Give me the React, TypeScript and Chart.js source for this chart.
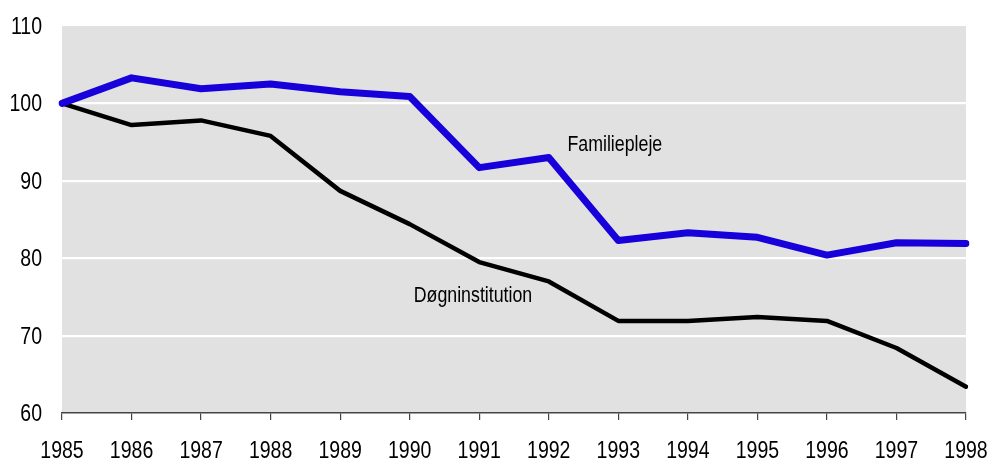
import React, { useEffect, useRef } from "react";
import { Chart, registerables } from "chart.js";

Chart.register(...registerables);

const years = ["1985","1986","1987","1988","1989","1990","1991","1992","1993","1994","1995","1996","1997","1998"];
const familiepleje = [100, 103.3, 101.9, 102.5, 101.5, 100.9, 91.7, 93.0, 82.3, 83.3, 82.7, 80.4, 82.0, 81.9];
const dognInstitution = [100, 97.2, 97.8, 95.8, 88.7, 84.4, 79.5, 77.0, 71.9, 71.9, 72.4, 71.9, 68.4, 63.4];
const yTicks = [60, 70, 80, 90, 100, 110];
const seriesLabels = [
  { text: "Familiepleje", x: 7.95, y: 93.8 },
  { text: "Døgninstitution", x: 5.91, y: 74.3 },
];

const FONT = "'Liberation Sans', Arial, sans-serif";

const bgPlugin = {
  id: "bgPlugin",
  beforeDraw(chart: any) {
    const { ctx, chartArea } = chart;
    ctx.save();
    ctx.fillStyle = "#e1e1e1";
    ctx.fillRect(chartArea.left, chartArea.top, chartArea.right - chartArea.left, chartArea.bottom - chartArea.top);
    ctx.restore();
  },
};

function narrowText(ctx: any, text: string, x: number, y: number, align: "left" | "center" | "right", sx: number) {
  ctx.save();
  ctx.translate(x, y);
  ctx.scale(sx, 1);
  ctx.textAlign = align;
  ctx.textBaseline = "alphabetic";
  ctx.fillText(text, 0, 0);
  ctx.restore();
}

const labelPlugin = {
  id: "labelPlugin",
  afterDraw(chart: any) {
    const { ctx, scales, chartArea } = chart;
    ctx.save();
    ctx.fillStyle = "#000";
    ctx.font = `22.5px ${FONT}`;
    for (const l of seriesLabels) {
      narrowText(ctx, l.text, scales.x.getPixelForValue(l.x), scales.y.getPixelForValue(l.y), "center", 0.79);
    }
    ctx.font = `23.5px ${FONT}`;
    for (const v of yTicks) {
      narrowText(ctx, String(v), chartArea.left - 20, scales.y.getPixelForValue(v) + 8, "right", 0.83);
    }
    years.forEach((yr, i) => {
      narrowText(ctx, yr, scales.x.getPixelForValue(i), chartArea.bottom + 45, "center", 0.83);
    });
    ctx.restore();
  },
};

export default function App() {
  const ref = useRef<HTMLCanvasElement>(null);
  useEffect(() => {
    if (!ref.current) return;
    const chart = new Chart(ref.current, {
      type: "line",
      data: {
        labels: years,
        datasets: [
          {
            label: "Familiepleje",
            data: familiepleje,
            borderColor: "#1800da",
            borderWidth: 7,
            pointRadius: 0,
            tension: 0,
            borderCapStyle: "round",
            borderJoinStyle: "round",
          },
          {
            label: "Døgninstitution",
            data: dognInstitution,
            borderColor: "#000000",
            borderWidth: 4.5,
            pointRadius: 0,
            tension: 0,
            borderCapStyle: "round",
            borderJoinStyle: "round",
          },
        ],
      },
      options: {
        animation: false,
        responsive: false,
        maintainAspectRatio: false,
        layout: { padding: { left: 0, right: 23, top: 26, bottom: 0 } },
        plugins: { legend: { display: false }, tooltip: { enabled: false } },
        scales: {
          x: {
            type: "category",
            offset: false,
            grid: { drawOnChartArea: false, drawTicks: true, tickLength: 7, color: "#444", lineWidth: 1.2 },
            border: { display: true, color: "#444", width: 1.5 },
            ticks: { color: "rgba(0,0,0,0)", font: { family: FONT, size: 20 }, padding: 4, maxRotation: 0, autoSkip: false },
            afterFit(axis: any) {
              axis.height = 47;
              axis.paddingLeft = 0;
              axis.paddingRight = 0;
            },
          },
          y: {
            min: 60,
            max: 110,
            afterBuildTicks(axis: any) {
              axis.ticks = yTicks.map((v) => ({ value: v }));
            },
            grid: {
              drawTicks: false,
              color: (c: any) => (c.tick && (c.tick.value === 110 || c.tick.value === 60) ? "rgba(0,0,0,0)" : "#ffffff"),
              lineWidth: 2.2,
            },
            border: { display: false },
            ticks: { color: "rgba(0,0,0,0)", font: { family: FONT, size: 20 }, padding: 19 },
            afterFit(axis: any) {
              axis.width = 62;
              axis.paddingTop = 0;
              axis.paddingBottom = 0;
            },
          },
        },
      },
      plugins: [bgPlugin, labelPlugin],
    });
    return () => chart.destroy();
  }, []);
  return (
    <div style={{ position: "fixed", left: 0, top: 0, width: 989, height: 460 }}>
      <canvas ref={ref} width={989} height={460} style={{ width: 989, height: 460 }} />
    </div>
  );
}
